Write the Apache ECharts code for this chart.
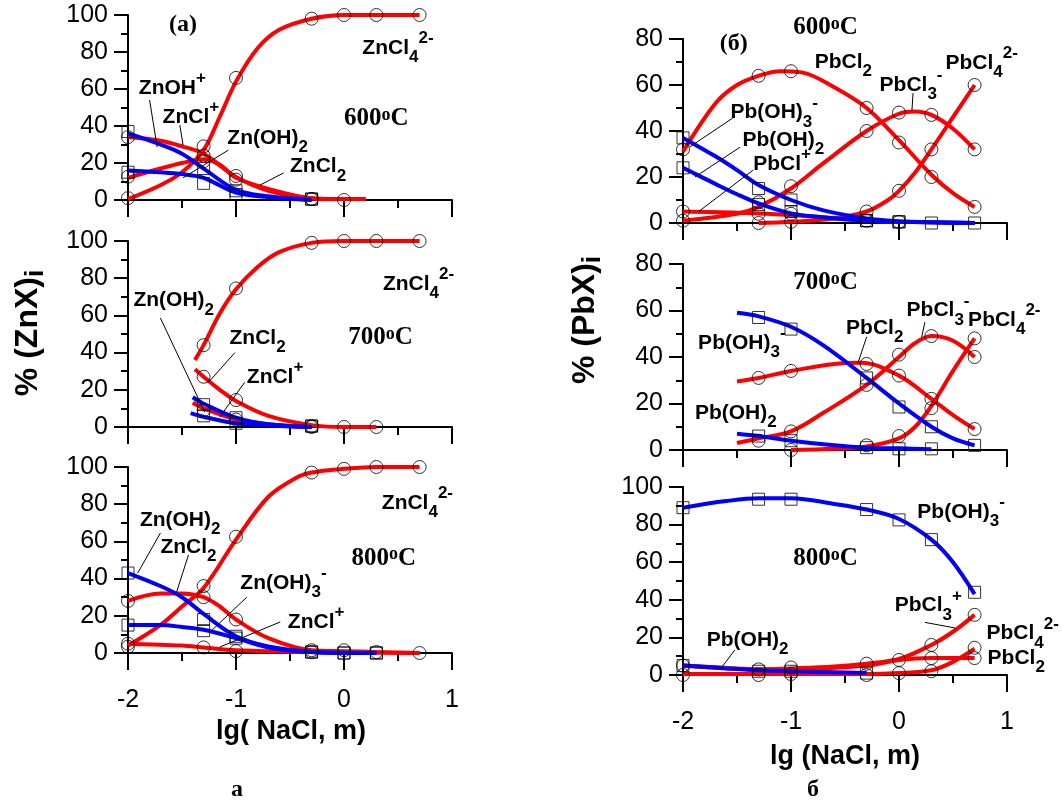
<!DOCTYPE html>
<html>
<head>
<meta charset="utf-8">
<script src="https://cdn.jsdelivr.net/npm/echarts@6/dist/echarts.min.js"></script>
<style>
html,body{margin:0;padding:0;background:#fff}
#main{width:1062px;height:803px}
</style>
</head>
<body>
<div id="main"></div>
<script>
// experimental points are at lg(NaCl) = 0.01, 0.05, 0.1, 0.5, 1, 2, 5 m
const xs = [-2, -1.3, -1, -0.3, 0, 0.3, 0.7];

// ---- Zn, 600 C ----
const zn600_ZnCl4 = [[-2,0.5],[-1.7,8],[-1.5,15],[-1.3,27],[-1.15,45],[-1,64],[-0.8,82],[-0.6,92],[-0.3,98],[0,100],[0.7,100]];
const zn600_ZnCl4_pts = [1, 29, 66, 98, 100, 100, 100];
const zn600_ZnClp = [[-2,34],[-1.7,32],[-1.5,29],[-1.3,25],[-1,12.5],[-0.7,5],[-0.3,1],[0,0.5],[0.2,0.5]];
const zn600_ZnClp_pts = [34, 24, 13, 0.5, 0, null, null];
const zn600_ZnCl2 = [[-2,12],[-1.7,17],[-1.5,20],[-1.3,22],[-1.15,19],[-1,12],[-0.7,6],[-0.3,1],[0,0.5],[0.2,0.5]];
const zn600_ZnCl2_pts = [12.6, 21, 11, 0.5, null, null, null];
const zn600_ZnOHp = [[-2,36],[-1.7,30],[-1.5,25],[-1.3,17],[-1,5.5],[-0.7,2],[-0.3,0]];
const zn600_ZnOHp_pts = [37, 17, 5, 0.5, null, null, null];
const zn600_ZnOH2 = [[-2,16],[-1.7,15],[-1.5,14],[-1.3,12],[-1,4],[-0.7,1.5],[-0.3,0]];
const zn600_ZnOH2_pts = [15, 9, 3, 0.5, null, null, null];

// ---- Zn, 700 C ----
const zn700_ZnCl4 = [[-1.38,36],[-1.3,44],[-1.15,61],[-1,74],[-0.8,86],[-0.6,94],[-0.3,99],[0,100],[0.7,100]];
const zn700_ZnCl4_pts = [null, 44, 74.5, 99, 100, 100, 100];
const zn700_ZnCl2 = [[-1.38,31],[-1.3,27],[-1.15,20],[-1,14],[-0.7,6],[-0.3,1],[0,0],[0.3,0]];
const zn700_ZnCl2_pts = [null, 27, 14.5, 0.5, 0, 0, null];
const zn700_ZnClp = [[-1.4,13],[-1.3,10],[-1,4],[-0.7,1.5],[-0.3,0]];
const zn700_ZnClp_pts = [null, 9, 4, 0, null, null, null];
const zn700_ZnOH2 = [[-1.4,16],[-1.3,12.5],[-1,5],[-0.7,1.5],[-0.3,0]];
const zn700_ZnOH2_pts = [null, 12, 5, 0.5, null, null, null];
const zn700_ZnOHp = [[-1.42,7.5],[-1.3,5.5],[-1,2],[-0.6,0.5],[-0.3,0]];
const zn700_ZnOHp_pts = [null, 6, 2, 0.5, null, null, null];

// ---- Zn, 800 C ----
const zn800_ZnCl4 = [[-2,4],[-1.7,15],[-1.5,25],[-1.3,35],[-1,61],[-0.7,84],[-0.45,94],[-0.3,97],[0,99],[0.3,100],[0.7,100]];
const zn800_ZnCl4_pts = [5, 36, 62.5, 97, 99, 100, 100];
const zn800_ZnCl2 = [[-2,28],[-1.7,32],[-1.5,32],[-1.3,30],[-1.15,25],[-1,18],[-0.7,8],[-0.3,1.5],[0,1],[0.3,0.5],[0.7,0]];
const zn800_ZnCl2_pts = [28, 30, 18, 1.5, 1.5, 0.5, 0];
const zn800_ZnClp = [[-2,5],[-1.5,4],[-1.3,3],[-1,1.5],[-0.3,0.5],[0.7,0]];
const zn800_ZnClp_pts = [3.4, 3, 1, 0.5, null, null, null];
const zn800_ZnOH2 = [[-2,43],[-1.7,36],[-1.5,30],[-1.3,21],[-1,9],[-0.7,3.5],[-0.3,0.5],[0,0],[0.3,0]];
const zn800_ZnOH2_pts = [43, 18, 9, 0.5, 0, 0, null];
const zn800_ZnOH3 = [[-2,15],[-1.7,15],[-1.5,14],[-1.3,12.5],[-1,8],[-0.7,3],[-0.3,0.5],[0.3,0]];
const zn800_ZnOH3_pts = [15, 12, 8, 0.5, 0, 0, null];

// ---- Pb, 600 C ----
const pb600_PbCl2 = [[-2,31],[-1.7,52],[-1.5,60],[-1.3,64],[-1.1,66],[-0.9,65.5],[-0.6,59],[-0.3,50],[0,36],[0.3,21],[0.5,13],[0.7,7]];
const pb600_PbCl2_pts = [32, 64, 66, 50, 35, 20, 7];
const pb600_PbCl3 = [[-2,1],[-1.5,4],[-1.3,7],[-1,15],[-0.7,26],[-0.3,40],[0,47.5],[0.15,48.5],[0.3,47],[0.5,41],[0.7,32]];
const pb600_PbCl3_pts = [1, 9, 16, 40, 48, 47, 32];
const pb600_PbCl4 = [[-1.3,0],[-1,0.5],[-0.6,2],[-0.3,5],[-0.1,10],[0,14],[0.15,22],[0.3,32],[0.5,46],[0.7,60]];
const pb600_PbCl4_pts = [null, 0, 0.5, 5, 14, 32, 60];
const pb600_PbClp = [[-2,5],[-1.5,4.5],[-1,3.5],[-0.6,2],[-0.3,1],[0,0.5],[0.7,0]];
const pb600_PbClp_pts = [5, 4, 4, 1, 0.5, null, null];
const pb600_PbOH3 = [[-2,37],[-1.7,29],[-1.5,23],[-1.3,16.5],[-1,10],[-0.7,5.5],[-0.3,2],[0,0.8],[0.3,0.3],[0.7,0]];
const pb600_PbOH3_pts = [37, 15, 10, 1, 0.5, 0, 0];
const pb600_PbOH2 = [[-2,24],[-1.7,17],[-1.5,12.5],[-1.3,8.5],[-1,4.2],[-0.7,2.5],[-0.3,1],[0,0.5],[0.7,0]];
const pb600_PbOH2_pts = [24, 8, 5, 1, 0.5, null, null];

// ---- Pb, 700 C ----
const pb700_PbOH3 = [[-1.5,59],[-1.3,57.5],[-1,53],[-0.7,45],[-0.3,31],[0,20],[0.3,10],[0.5,5],[0.7,2]];
const pb700_PbOH3_pts = [null, 57, 52, 31, 18.5, 10, 2];
const pb700_PbCl2 = [[-1.5,29.5],[-1.3,31],[-1,34],[-0.6,37],[-0.35,37.5],[0,32],[0.3,22],[0.5,15],[0.7,9]];
const pb700_PbCl2_pts = [null, 31, 34, 37, 32, 22, 9];
const pb700_PbCl3 = [[-1.5,3],[-1.3,5],[-1,8],[-0.7,16],[-0.3,28],[0,40],[0.15,46],[0.3,49],[0.5,47],[0.7,40]];
const pb700_PbCl3_pts = [null, 4, 8, 28, 41, 49, 40];
const pb700_PbCl4 = [[-1,0],[-0.6,0.5],[-0.3,1.5],[0,5],[0.15,10],[0.3,19],[0.5,34],[0.7,48]];
const pb700_PbCl4_pts = [null, null, 0, 2, 6, 18, 48];
const pb700_PbOH2 = [[-1.5,7],[-1.3,6],[-1,4],[-0.6,2],[-0.3,1],[0,0.7],[0.3,0.3]];
const pb700_PbOH2_pts = [null, 6, 4, 1, 0.5, 0.5, null];

// ---- Pb, 800 C ----
const pb800_PbOH3 = [[-2,89],[-1.6,92.5],[-1.3,94],[-1,94],[-0.6,91],[-0.3,88],[0,83],[0.3,72],[0.5,60],[0.7,43]];
const pb800_PbOH3_pts = [89, 93.5, 93.5, 88, 82.5, 72, 44];
const pb800_PbCl3 = [[-2,5],[-1.5,3.5],[-1.3,3],[-1,3.5],[-0.6,4.5],[-0.3,6],[0,8.5],[0.3,16],[0.5,23],[0.7,32]];
const pb800_PbCl3_pts = [5, 3, 4, 6, 8, 16, 32];
const pb800_PbCl2 = [[-2,5],[-1.3,3],[-1,3],[-0.3,5],[0,8],[0.3,9],[0.7,9]];
const pb800_PbCl2_pts = [null, null, null, null, null, 9, 9];
const pb800_PbCl4 = [[-2,0.5],[-1,0.5],[-0.3,0.5],[0,1],[0.3,2.5],[0.5,7],[0.7,14]];
const pb800_PbCl4_pts = [0, 0, 0.5, 0, 1, 2, 14.5];
const pb800_PbOH2 = [[-2,5],[-1.6,3.5],[-1.3,2.5],[-1,2],[-0.6,1.5],[-0.3,1]];
const pb800_PbOH2_pts = [5, 2, 2, 1, null, null, null];

const RED = '#ff0000';
const BLUE = '#0000ff';
const SANS = '"Liberation Sans", Arial, sans-serif';
const SERIF = '"Liberation Serif", "Times New Roman", serif';

const grids = [
  {left: 128, top: 15, width: 324, height: 185},
  {left: 128, top: 241, width: 324, height: 186},
  {left: 128, top: 467, width: 324, height: 186},
  {left: 683, top: 39, width: 324, height: 184},
  {left: 683, top: 264, width: 324, height: 186},
  {left: 683, top: 487, width: 324, height: 188}
];
const yMax = [100, 100, 100, 80, 80, 100];

const axisLine = {show: true, onZero: false, lineStyle: {color: '#000', width: 2}};

const xAxis = grids.map((g, i) => ({
  gridIndex: i, type: 'value', min: -2, max: 1, interval: 1,
  axisLine: axisLine,
  axisTick: {show: true, length: 17, lineStyle: {color: '#000', width: 2}},
  minorTick: {show: true, splitNumber: 2, length: 8, lineStyle: {color: '#000', width: 2}},
  splitLine: {show: false},
  axisLabel: {show: i === 2 || i === 5, fontSize: 25, color: '#000', fontFamily: SANS, margin: 35}
}));

const yAxis = grids.map((g, i) => ({
  gridIndex: i, type: 'value', min: 0, max: yMax[i], interval: 20,
  axisLine: axisLine,
  axisTick: {show: true, length: 14, lineStyle: {color: '#000', width: 2}},
  minorTick: {show: true, splitNumber: 2, length: 7, lineStyle: {color: '#000', width: 2}},
  splitLine: {show: false},
  axisLabel: {fontSize: 25, color: '#000', fontFamily: SANS, margin: 20}
}));

const series = [];
function addCurve(grid, color, curve, pts, sym) {
  series.push({
    type: 'line', xAxisIndex: grid, yAxisIndex: grid, data: curve,
    smooth: 0.35, symbol: 'none', silent: true, z: 2,
    lineStyle: {color: color, width: 4}
  });
  const d = [];
  xs.forEach((x, i) => { if (pts[i] != null) d.push([x, pts[i]]); });
  series.push({
    type: 'scatter', xAxisIndex: grid, yAxisIndex: grid, data: d,
    symbol: sym, symbolSize: sym === 'circle' ? 13 : 12, silent: true, z: 3,
    itemStyle: {color: 'rgba(0,0,0,0)', borderColor: '#000', borderWidth: 1}
  });
}

addCurve(0, RED, zn600_ZnCl4, zn600_ZnCl4_pts, 'circle');
addCurve(0, RED, zn600_ZnClp, zn600_ZnClp_pts, 'circle');
addCurve(0, RED, zn600_ZnCl2, zn600_ZnCl2_pts, 'circle');
addCurve(0, BLUE, zn600_ZnOHp, zn600_ZnOHp_pts, 'rect');
addCurve(0, BLUE, zn600_ZnOH2, zn600_ZnOH2_pts, 'rect');

addCurve(1, RED, zn700_ZnCl4, zn700_ZnCl4_pts, 'circle');
addCurve(1, RED, zn700_ZnCl2, zn700_ZnCl2_pts, 'circle');
addCurve(1, RED, zn700_ZnClp, zn700_ZnClp_pts, 'circle');
addCurve(1, BLUE, zn700_ZnOH2, zn700_ZnOH2_pts, 'rect');
addCurve(1, BLUE, zn700_ZnOHp, zn700_ZnOHp_pts, 'rect');

addCurve(2, RED, zn800_ZnCl4, zn800_ZnCl4_pts, 'circle');
addCurve(2, RED, zn800_ZnCl2, zn800_ZnCl2_pts, 'circle');
addCurve(2, RED, zn800_ZnClp, zn800_ZnClp_pts, 'circle');
addCurve(2, BLUE, zn800_ZnOH2, zn800_ZnOH2_pts, 'rect');
addCurve(2, BLUE, zn800_ZnOH3, zn800_ZnOH3_pts, 'rect');

addCurve(3, RED, pb600_PbCl2, pb600_PbCl2_pts, 'circle');
addCurve(3, RED, pb600_PbCl3, pb600_PbCl3_pts, 'circle');
addCurve(3, RED, pb600_PbCl4, pb600_PbCl4_pts, 'circle');
addCurve(3, RED, pb600_PbClp, pb600_PbClp_pts, 'circle');
addCurve(3, BLUE, pb600_PbOH3, pb600_PbOH3_pts, 'rect');
addCurve(3, BLUE, pb600_PbOH2, pb600_PbOH2_pts, 'rect');

addCurve(4, RED, pb700_PbCl2, pb700_PbCl2_pts, 'circle');
addCurve(4, RED, pb700_PbCl3, pb700_PbCl3_pts, 'circle');
addCurve(4, RED, pb700_PbCl4, pb700_PbCl4_pts, 'circle');
addCurve(4, BLUE, pb700_PbOH3, pb700_PbOH3_pts, 'rect');
addCurve(4, BLUE, pb700_PbOH2, pb700_PbOH2_pts, 'rect');

addCurve(5, RED, pb800_PbCl3, pb800_PbCl3_pts, 'circle');
addCurve(5, RED, pb800_PbCl2, pb800_PbCl2_pts, 'circle');
addCurve(5, RED, pb800_PbCl4, pb800_PbCl4_pts, 'circle');
addCurve(5, BLUE, pb800_PbOH3, pb800_PbOH3_pts, 'rect');
addCurve(5, BLUE, pb800_PbOH2, pb800_PbOH2_pts, 'rect');

const chart = echarts.init(document.getElementById('main'));
chart.setOption({
  animation: false,
  backgroundColor: '#fff',
  grid: grids,
  xAxis: xAxis,
  yAxis: yAxis,
  series: series
});

// text styles: species names (sub/superscripts), temperatures, panel tags
const spStyle = {
  fontSize: 21, fontWeight: 'bold', fontFamily: SANS, fill: '#000', lineHeight: 36,
  rich: {
    s: {fontSize: 17, fontWeight: 'bold', fontFamily: SANS, fill: '#000', verticalAlign: 'bottom', lineHeight: 17},
    p: {fontSize: 17, fontWeight: 'bold', fontFamily: SANS, fill: '#000', verticalAlign: 'top', lineHeight: 17}
  }
};
const tStyle = {
  fontSize: 25, fontWeight: 'bold', fontFamily: SERIF, fill: '#000', lineHeight: 25,
  rich: {o: {fontSize: 18, fontWeight: 'bold', fontFamily: SERIF, fill: '#000', verticalAlign: 'top', lineHeight: 11}}
};
const tagStyle = {fontSize: 24, fontWeight: 'bold', fontFamily: SERIF, fill: '#000'};

const ZnCl4 = 'ZnCl{s|4}{p|2-}';
const PbCl4 = 'PbCl{s|4}{p|2-}';
const labels = [
  {g: 0, x: -1.49, y: 94.6, t: '(a)', k: 'tag'},
  {g: 0, x: 0.17, y: 82, t: ZnCl4},
  {g: 0, x: 0.0, y: 44, t: '600{o|o}C', k: 'temp'},
  {g: 0, x: -1.9, y: 60.5, t: 'ZnOH{p|+}', a: [-1.80, 54], b: [-1.73, 28.6]},
  {g: 0, x: -1.68, y: 45, t: 'ZnCl{p|+}', a: [-1.52, 40.5], b: [-1.49, 29.7]},
  {g: 0, x: -1.08, y: 33.5, t: 'Zn(OH){s|2}', a: [-1.07, 27], b: [-1.49, 12]},
  {g: 0, x: -0.5, y: 18, t: 'ZnCl{s|2}', a: [-0.56, 14.6], b: [-0.78, 8]},

  {g: 1, x: 0.36, y: 77, t: ZnCl4},
  {g: 1, x: 0.04, y: 48, t: '700{o|o}C', k: 'temp'},
  {g: 1, x: -1.95, y: 68, t: 'Zn(OH){s|2}', a: [-1.70, 58.6], b: [-1.29, 8]},
  {g: 1, x: -1.06, y: 48, t: 'ZnCl{s|2}', a: [-1.01, 40], b: [-1.26, 23.7]},
  {g: 1, x: -0.9, y: 27, t: 'ZnCl{p|+}', a: [-0.92, 24], b: [-1.15, 5.4]},

  {g: 2, x: 0.35, y: 80.6, t: ZnCl4},
  {g: 2, x: 0.07, y: 51, t: '800{o|o}C', k: 'temp'},
  {g: 2, x: -1.89, y: 71.5, t: 'Zn(OH){s|2}', a: [-1.70, 64.5], b: [-1.91, 43]},
  {g: 2, x: -1.70, y: 57, t: 'ZnCl{s|2}', a: [-1.44, 52.7], b: [-1.55, 32.8]},
  {g: 2, x: -0.96, y: 37.6, t: 'Zn(OH){s|3}{p|-}', a: [-0.90, 30], b: [-1.22, 12.4]},
  {g: 2, x: -0.52, y: 16.7, t: 'ZnCl{p|+}', a: [-0.59, 16.7], b: [-1.15, 3.2]},

  {g: 3, x: -0.98, y: 84.8, t: '600{o|o}C', k: 'temp'},
  {g: 3, x: -1.53, y: 78, t: '(б)', k: 'tag'},
  {g: 3, x: -0.78, y: 70, t: 'PbCl{s|2}'},
  {g: 3, x: 0.43, y: 69.6, t: PbCl4},
  {g: 3, x: -0.18, y: 60, t: 'PbCl{s|3}{p|-}', a: [0.13, 56.5], b: [0.12, 49]},
  {g: 3, x: -1.56, y: 48, t: 'Pb(OH){s|3}{p|-}', a: [-1.54, 45.6], b: [-1.94, 33]},
  {g: 3, x: -1.45, y: 36, t: 'Pb(OH){s|2}', a: [-1.47, 33], b: [-1.89, 20]},
  {g: 3, x: -1.35, y: 25.7, t: 'PbCl{p|+}', a: [-1.35, 23], b: [-1.86, 4.8]},

  {g: 4, x: -0.98, y: 72, t: '700{o|o}C', k: 'temp'},
  {g: 4, x: -1.86, y: 46, t: 'Pb(OH){s|3}{p|-}'},
  {g: 4, x: -1.89, y: 16, t: 'Pb(OH){s|2}'},
  {g: 4, x: -0.49, y: 52.5, t: 'PbCl{s|2}', a: [-0.30, 48.6], b: [-0.38, 37.4]},
  {g: 4, x: 0.07, y: 60, t: 'PbCl{s|3}{p|-}', a: [0.24, 55], b: [0.21, 48.6]},
  {g: 4, x: 0.64, y: 56, t: PbCl4},

  {g: 5, x: 0.17, y: 86.7, t: 'Pb(OH){s|3}{p|-}'},
  {g: 5, x: -0.98, y: 62, t: '800{o|o}C', k: 'temp'},
  {g: 5, x: -0.04, y: 37, t: 'PbCl{s|3}{p|+}', a: [0.24, 28], b: [0.52, 25]},
  {g: 5, x: 0.81, y: 22, t: PbCl4},
  {g: 5, x: 0.82, y: 9, t: 'PbCl{s|2}'},
  {g: 5, x: -1.78, y: 18.6, t: 'Pb(OH){s|2}', a: [-1.52, 13.3], b: [-1.66, 2.7]}
];

const graphic = [];
labels.forEach(l => {
  const p = chart.convertToPixel({gridIndex: l.g}, [l.x, l.y]);
  const base = l.k === 'temp' ? tStyle : (l.k === 'tag' ? tagStyle : spStyle);
  graphic.push({
    type: 'text', x: p[0], y: p[1], z: 10, silent: true,
    style: Object.assign({legacy: false, text: l.t, align: l.k === 'tag' ? 'center' : 'left', verticalAlign: 'middle'}, base)
  });
  if (l.a) {
    const a = chart.convertToPixel({gridIndex: l.g}, l.a);
    const b = chart.convertToPixel({gridIndex: l.g}, l.b);
    graphic.push({
      type: 'line', z: 10, silent: true,
      shape: {x1: a[0], y1: a[1], x2: b[0], y2: b[1]},
      style: {stroke: '#000', lineWidth: 1}
    });
  }
});

// axis names and panel letters
const nameStyle = {fontSize: 27, fontWeight: 'bold', fontFamily: SANS, fill: '#000', align: 'center', verticalAlign: 'middle'};
graphic.push({type: 'text', x: 291, y: 732, style: Object.assign({legacy: false, text: 'lg( NaCl, m)'}, nameStyle)});
graphic.push({type: 'text', x: 845, y: 757, style: Object.assign({legacy: false, text: 'lg (NaCl, m)'}, nameStyle)});
const yNameStyle = Object.assign({}, nameStyle, {fontSize: 32, rich: {i: {fontSize: 26, fontWeight: 'bold', fontFamily: SANS, fill: '#000', verticalAlign: 'bottom', lineHeight: 26}}, lineHeight: 42});
graphic.push({type: 'text', x: 28, y: 333, rotation: Math.PI / 2, style: Object.assign({legacy: false, text: '% (ZnX){i|i}'}, yNameStyle)});
graphic.push({type: 'text', x: 585, y: 320, rotation: Math.PI / 2, style: Object.assign({legacy: false, text: '% (PbX){i|i}'}, yNameStyle)});
graphic.push({type: 'text', x: 237, y: 790, style: Object.assign({legacy: false, text: 'а'}, tagStyle, {align: 'center', verticalAlign: 'middle'})});
graphic.push({type: 'text', x: 813, y: 790, style: Object.assign({legacy: false, text: 'б'}, tagStyle, {align: 'center', verticalAlign: 'middle'})});

chart.setOption({graphic: graphic});
</script>
</body>
</html>
